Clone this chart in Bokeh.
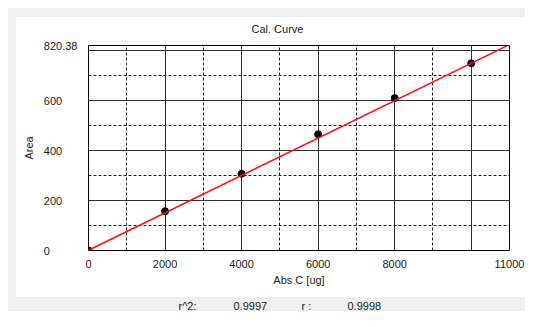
from bokeh.plotting import figure
from bokeh.layouts import column
from bokeh.models import Range1d, FixedTicker, ColumnDataSource
from bokeh.core.properties import value
from bokeh.embed import file_html
from bokeh.resources import INLINE

# ---- data ----
title_text = "Cal. Curve"
x_label = "Abs C [ug]"
y_label = "Area"
amount = [0, 2000, 4000, 6000, 8000, 10000]
area = [0, 157, 307, 465, 610, 749]
fit_x = [0, 11000]
fit_y = [1.0, 824.0]
x_max = 11000
y_max = 820.38
x_major = [0, 2000, 4000, 6000, 8000, 10000, 11000]
x_minor = [1000, 3000, 5000, 7000, 9000]
x_labels = {0: "0", 2000: "2000", 4000: "4000", 6000: "6000", 8000: "8000", 10000: "", 11000: "11000"}
y_major = [0, 200, 400, 600, 800, 820.38]
y_minor = [100, 300, 500, 700]
y_labels = {0: "0", 200: "200", 400: "400", 600: "600", 800: "", 820.38: "820.38"}
stats_names = ["r^2:", "r :"]
stats_values = ["0.9997", "0.9998"]

FONT = "Liberation Sans"
TXT = "#1a1a1a"
W, H_MAIN, H_STATS = 525, 299, 12
FRAME_L, FRAME_R = 88, 509

# left-align the y tick labels by padding them to the width of the longest one
FS, PS = "\u2007", "\u2008"
def pad(s):
    if "." in s or s == "":
        return s
    return s + PS + FS * (5 - len(s))
y_labels_padded = {k: pad(v) for k, v in y_labels.items()}

p = figure(width=W, height=H_MAIN, output_backend="svg", toolbar_location=None,
           x_range=Range1d(0, x_max), y_range=Range1d(0, y_max),
           min_border_left=FRAME_L, min_border_right=W - FRAME_R, min_border_top=45,
           min_border_bottom=H_MAIN - 250,
           border_fill_color=None, background_fill_color="white",
           outline_line_color="black", outline_line_width=1)
# grey window with a white chart panel, painted behind the canvas
p.styles = {"background": "linear-gradient(#ffffff,#ffffff) 16px 17px / 509px 280px no-repeat, "
                          "linear-gradient(#f0f0f0,#f0f0f0) 8px 8px / 517px 100% no-repeat, #ffffff"}

p.title.text = title_text
p.title.align = "left"
p.title.offset = 163
p.title.standoff = 22
p.title.text_font = FONT
p.title.text_font_size = "11px"
p.title.text_font_style = "normal"
p.title.text_color = TXT

p.xaxis.ticker = FixedTicker(ticks=x_major, minor_ticks=x_minor)
p.yaxis.ticker = FixedTicker(ticks=y_major, minor_ticks=y_minor)
p.xaxis.major_label_overrides = x_labels
p.yaxis.major_label_overrides = y_labels_padded

for ax in (p.xaxis[0], p.yaxis[0]):
    ax.axis_line_color = None
    ax.major_tick_line_color = None
    ax.minor_tick_line_color = None
    ax.major_tick_out = 0
    ax.major_tick_in = 0
    ax.major_label_text_font = FONT
    ax.major_label_text_font_size = "11px"
    ax.major_label_text_color = TXT
    ax.axis_label_text_font = FONT
    ax.axis_label_text_font_size = "11px"
    ax.axis_label_text_font_style = "normal"
    ax.axis_label_text_color = TXT

p.xaxis.axis_label = x_label
p.yaxis.axis_label = y_label
p.xaxis.major_label_standoff = 5
p.yaxis.major_label_standoff = 7
p.xaxis.axis_label_standoff = 3
p.yaxis.axis_label_standoff = 6

for g in (p.xgrid[0], p.ygrid[0]):
    g.grid_line_color = "#303030"
    g.grid_line_width = 1
    g.minor_grid_line_color = "#202020"
    g.minor_grid_line_dash = "3 2"
    g.minor_grid_line_width = 1

src = ColumnDataSource(dict(x=amount, y=area))
p.scatter("x", "y", source=src, size=7, color="black")
p.line(fit_x, fit_y, line_color="#ff1010", line_width=1.5)

# statistics strip under the chart panel (its frame lines up with the chart frame,
# so its x range is expressed in window pixels over that frame)
s = figure(width=W, height=H_STATS, output_backend="svg", toolbar_location=None,
           x_range=Range1d(FRAME_L, FRAME_R), y_range=Range1d(H_STATS, 0),
           min_border=0, border_fill_color=None, background_fill_color=None,
           outline_line_color=None)
s.styles = {"background": "linear-gradient(#f0f0f0,#f0f0f0) 8px 0 / 517px 100% no-repeat, #ffffff"}
s.axis.visible = False
s.grid.visible = False
stat_src = ColumnDataSource(dict(x=[178, 233, 301, 347],
                                 t=[stats_names[0], stats_values[0], stats_names[1], stats_values[1]]))
s.text("x", 6, text="t", source=stat_src, text_font=value(FONT), text_font_size="11px",
       text_color=TXT, text_baseline="middle", text_align="left")

layout = column(p, s, spacing=0)
open("out.html", "w").write(file_html(layout, INLINE))
